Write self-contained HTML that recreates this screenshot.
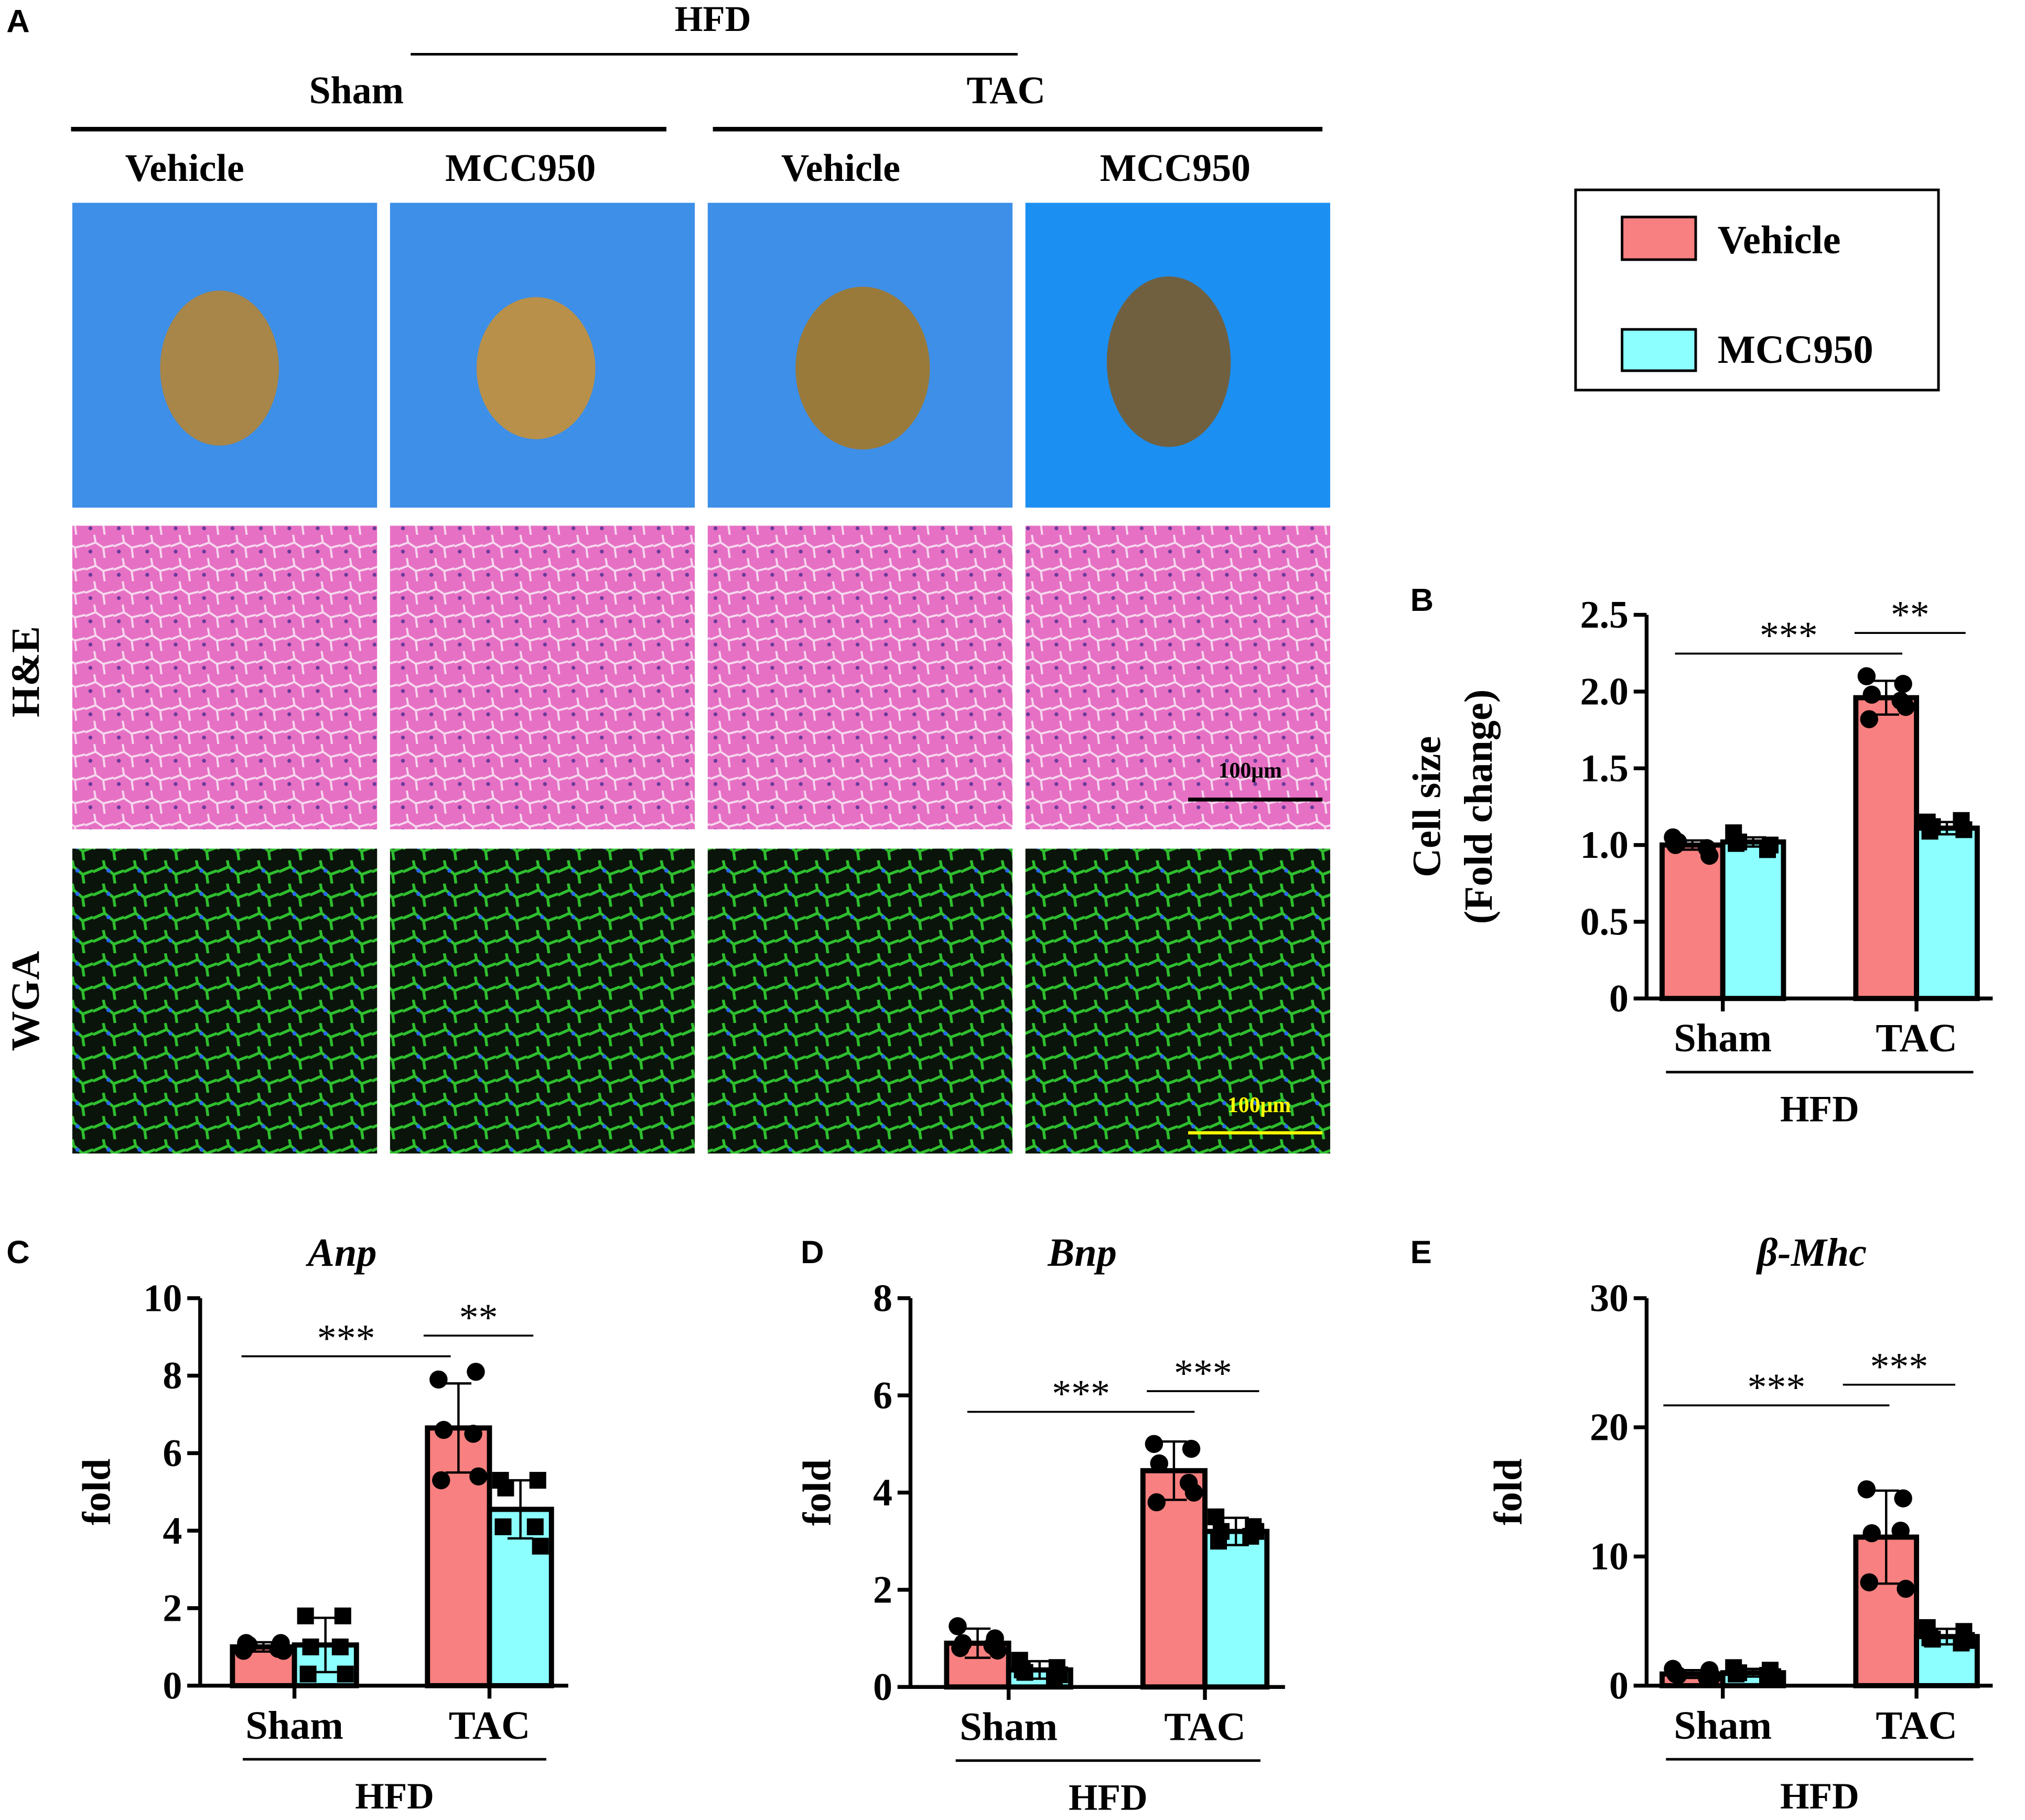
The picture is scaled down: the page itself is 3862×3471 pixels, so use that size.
<!DOCTYPE html>
<html><head><meta charset="utf-8"><style>
html,body{margin:0;padding:0;background:#fff;}
svg{display:block;}
.t{font-family:"Liberation Serif",serif;font-weight:bold;fill:#000;}
.L{font-family:"Liberation Sans",sans-serif;font-weight:bold;font-size:25px;fill:#000;}
</style></head><body>
<svg id="fig" width="3862" height="3471" viewBox="0 0 1568 1409" preserveAspectRatio="none" xmlns="http://www.w3.org/2000/svg">
<defs>
<pattern id="he" width="22" height="18" patternUnits="userSpaceOnUse">
<rect width="22" height="18" fill="#e670c4"/>
<path d="M0 9 L8 6 L14 10 L22 8 M8 6 L7 0 M14 10 L15 18" stroke="#f6d8ee" stroke-width="1.6" fill="none"/>
<circle cx="4" cy="13" r="1.5" fill="#6a3a9a"/>
</pattern>
<pattern id="wga" width="24" height="18" patternUnits="userSpaceOnUse">
<rect width="24" height="18" fill="#0a140a"/>
<path d="M0 9 L9 5 L16 11 L24 8 M9 5 L8 0 M16 11 L17 18" stroke="#2fbf2f" stroke-width="2.2" fill="none"/>
<circle cx="12" cy="8" r="1.6" fill="#2a6aff"/>
</pattern>
</defs>
<text class="L" x="5" y="25">A</text>
<text class="L" x="1092" y="473">B</text>
<text class="L" x="5" y="978">C</text>
<text class="L" x="620" y="978">D</text>
<text class="L" x="1092" y="978">E</text>

<g>
<text class="t" x="552" y="24" font-size="28" text-anchor="middle">HFD</text>
<line x1="318" y1="42" x2="788" y2="42" stroke="#000" stroke-width="2"/>
<text class="t" x="276" y="80" font-size="30" text-anchor="middle">Sham</text>
<text class="t" x="779" y="80" font-size="30" text-anchor="middle">TAC</text>
<line x1="55" y1="100" x2="516" y2="100" stroke="#000" stroke-width="3.5"/>
<line x1="552" y1="100" x2="1024" y2="100" stroke="#000" stroke-width="3.5"/>
<text class="t" x="143" y="140" font-size="30" text-anchor="middle">Vehicle</text>
<text class="t" x="403" y="140" font-size="30" text-anchor="middle">MCC950</text>
<text class="t" x="651" y="140" font-size="30" text-anchor="middle">Vehicle</text>
<text class="t" x="910" y="140" font-size="30" text-anchor="middle">MCC950</text>
</g>
<g>
<rect x="56" y="157" width="236" height="236" fill="#3d8fe8"/>
<rect x="302" y="157" width="236" height="236" fill="#3d8fe8"/>
<rect x="548" y="157" width="236" height="236" fill="#3d8fe8"/>
<rect x="794" y="157" width="236" height="236" fill="#1c8ff2"/>
<ellipse cx="170" cy="285" rx="46" ry="60" fill="#a88548"/>
<ellipse cx="415" cy="285" rx="46" ry="55" fill="#b8904a"/>
<ellipse cx="668" cy="285" rx="52" ry="63" fill="#9a7a3a"/>
<ellipse cx="905" cy="280" rx="48" ry="66" fill="#706040"/>
<rect x="56" y="407" width="236" height="235" fill="url(#he)"/>
<rect x="302" y="407" width="236" height="235" fill="url(#he)"/>
<rect x="548" y="407" width="236" height="235" fill="url(#he)"/>
<rect x="794" y="407" width="236" height="235" fill="url(#he)"/>
<rect x="56" y="657" width="236" height="236" fill="url(#wga)"/>
<rect x="302" y="657" width="236" height="236" fill="url(#wga)"/>
<rect x="548" y="657" width="236" height="236" fill="url(#wga)"/>
<rect x="794" y="657" width="236" height="236" fill="url(#wga)"/>
<text class="t" x="968" y="602" font-size="17" text-anchor="middle">100μm</text>
<line x1="920" y1="619" x2="1024" y2="619" stroke="#000" stroke-width="3"/>
<text class="t" x="975" y="861" font-size="17" text-anchor="middle" style="fill:#ffff00">100μm</text>
<line x1="920" y1="877" x2="1024" y2="877" stroke="#ffff00" stroke-width="2.5"/>
<text class="t" font-size="31" text-anchor="middle" transform="translate(30,520) rotate(-90)">H&amp;E</text>
<text class="t" font-size="31" text-anchor="middle" transform="translate(30,775) rotate(-90)">WGA</text>
</g>
<g>
<rect x="1220" y="147" width="281" height="155" fill="#fff" stroke="#000" stroke-width="2"/>
<rect x="1256" y="168" width="57" height="33" fill="#f88080" stroke="#000" stroke-width="2"/>
<text class="t" x="1330" y="196" font-size="31">Vehicle</text>
<rect x="1256" y="255" width="57" height="32" fill="#8cffff" stroke="#000" stroke-width="2"/>
<text class="t" x="1330" y="281" font-size="31">MCC950</text>
</g>
<g id="charts"></g>
</svg>
<script>
// Data
const groups=["Sham","TAC"];
const bMeans=[1.0,1.02,1.96,1.11];
const bErr=[0.03,0.03,0.11,0.04];
const bPts=[[1.05,0.93,1.02,0.98,1.0],[1.08,1.0,1.02,0.97,1.01],[2.1,2.05,1.98,1.94,1.82,1.9],[1.15,1.1,1.12,1.16,1.09]];
const bTicks=["0","0.5","1.0","1.5","2.0","2.5"];
const cMeans=[1.0,1.05,6.65,4.55];
const cErr=[0.12,0.7,1.15,0.75];
const cPts=[[0.9,1.1,1.05,0.95,1.1,0.9],[1.8,1.8,1.0,1.0,0.3,0.3],[7.9,8.1,6.6,6.5,5.3,5.4],[5.3,5.3,5.1,4.1,4.1,3.6]];
const cTicks=["0","2","4","6","8","10"];
const dMeans=[0.9,0.35,4.45,3.2];
const dErr=[0.3,0.18,0.6,0.28];
const dPts=[[1.25,1.0,0.9,0.85,0.8,0.75],[0.55,0.4,0.3,0.2,0.35,0.25],[5.0,4.9,4.6,4.2,3.8,4.0],[3.5,3.3,3.2,3.1,3.0,3.2]];
const dTicks=["0","2","4","6","8"];
const eMeans=[0.9,1.0,11.5,3.8];
const eErr=[0.3,0.3,3.6,0.6];
const ePts=[[1.3,1.2,0.8,0.6,0.9,0.7],[1.4,1.2,1.0,0.8,0.9,0.7],[15.2,14.5,11.8,12.0,8.0,7.5],[4.5,4.2,3.6,3.3,3.7,3.5]];
const eTicks=["0","10","20","30"];

const NS="http://www.w3.org/2000/svg";
const root=document.getElementById('charts');
function mk(tag,attrs,parent,txt){const e=document.createElementNS(NS,tag);for(const k in attrs)e.setAttribute(k,attrs[k]);if(txt!==undefined)e.textContent=txt;parent.appendChild(e);return e;}

function chart(c){
  const g=mk('g',{},root);
  
  
  const max=parseFloat(c.ticks[c.ticks.length-1]);
  const y=v=>c.y0-(v/max)*(c.y0-c.yTop);
  const ya=mk('line',{x1:c.ax,y1:c.yTop,x2:c.ax,y2:c.y0,stroke:'#000','stroke-width':3},g);
  
  
  const xa=mk('line',{x1:c.ax-10,y1:c.y0,x2:c.axEnd,y2:c.y0,stroke:'#000','stroke-width':3},g);
  
  
  c.ticks.forEach(t=>{
    const v=parseFloat(t),yy=y(v);
    mk('line',{x1:c.ax-10,y1:yy,x2:c.ax,y2:yy,stroke:'#000','stroke-width':3},g);
    const tl=mk('text',{class:'t',x:c.ax-14,y:yy+10,'font-size':30,'text-anchor':'end'},g,t);
    
    
  });
  for(let i=0;i<4;i++){
    const gi=Math.floor(i/2),si=i%2;
    const x=c.gx[gi]+si*c.bw;
    const r=mk('rect',{x:x,y:y(c.means[i]),width:c.bw,height:c.y0-y(c.means[i]),fill:si?'#8cffff':'#f88080',stroke:'#000','stroke-width':4},g);
    
    
    const cx=x+c.bw/2;
    const eb=mk('path',{d:`M${cx} ${y(c.means[i]-c.err[i])}V${y(c.means[i]+c.err[i])}M${cx-10} ${y(c.means[i]+c.err[i])}h20M${cx-10} ${y(c.means[i]-c.err[i])}h20`,stroke:'#000','stroke-width':1.8,fill:'none'},g);
    
    
    const pts=c.pts[i],n=pts.length;
    pts.forEach((v,k)=>{
      const px=x+c.bw*(k%2?0.78:0.22)+(k%3-1)*2,py=y(v);
      let p;
      if(si) p=mk('rect',{x:px-6.5,y:py-6.5,width:13,height:13,fill:'#000'},g);
      else p=mk('circle',{cx:px,cy:py,r:7,fill:'#000'},g);
      
      
    });
  }
  groups.forEach((gn,gi)=>{
    const cx=c.gx[gi]+c.bw;
    mk('line',{x1:cx,y1:c.y0,x2:cx,y2:c.y0+10,stroke:'#000','stroke-width':3},g);
    const tl=mk('text',{class:'t',x:cx,y:c.y0+41,'font-size':31,'text-anchor':'middle'},g,gn);
    
    
  });
  mk('line',{x1:c.hfd[0],y1:c.y0+57,x2:c.hfd[1],y2:c.y0+57,stroke:'#000','stroke-width':2},g);
  const h=mk('text',{class:'t',x:(c.hfd[0]+c.hfd[1])/2,y:c.y0+95,'font-size':29,'text-anchor':'middle'},g,'HFD');
  
  
  c.ytitle.forEach((tt,k)=>{
    const yt=mk('text',{class:'t','font-size':31,'text-anchor':'middle',transform:`translate(${c.ytx[k]},${(c.y0+c.yTop)/2}) rotate(-90)`},g,tt);
    
    
  });
  if(c.title){
    const ti=mk('text',{class:'t',x:c.title[1],y:980,'font-size':31,'font-style':'italic','text-anchor':'middle'},g,c.title[0]);
    
    
  }
  c.sig.forEach(s=>{
    mk('line',{x1:s[0],y1:s[2],x2:s[1],y2:s[2],stroke:'#000','stroke-width':1.5},g);
    const st=mk('text',{x:(s[0]+s[1])/2,y:s[2]-4,'font-size':30,'text-anchor':'middle','font-family':'Liberation Serif, serif'},g,s[3]);
    
    
  });
}
chart({name:'chart-b-cell-size',ax:1275,axEnd:1543,y0:773,yTop:476,ticks:bTicks,means:bMeans,err:bErr,pts:bPts,gx:[1287,1437],bw:47,hfd:[1290,1528],ytitle:['Cell size','(Fold change)'],ytx:[1115,1155],sig:[[1297,1473,506,'***'],[1436,1522,490,'**']]});
chart({name:'chart-c-anp',ax:155,axEnd:440,y0:1305,yTop:1005,ticks:cTicks,means:cMeans,err:cErr,pts:cPts,gx:[180,331],bw:48,hfd:[188,423],ytitle:['fold'],ytx:[85],title:['Anp',265],sig:[[187,349,1050,'***'],[328,413,1034,'**']]});
chart({name:'chart-d-bnp',ax:705,axEnd:995,y0:1306,yTop:1005,ticks:dTicks,means:dMeans,err:dErr,pts:dPts,gx:[733,885],bw:48,hfd:[740,976],ytitle:['fold'],ytx:[643],title:['Bnp',838],sig:[[749,925,1093,'***'],[888,975,1077,'***']]});
chart({name:'chart-e-beta-mhc',ax:1275,axEnd:1543,y0:1305,yTop:1005,ticks:eTicks,means:eMeans,err:eErr,pts:ePts,gx:[1287,1437],bw:47,hfd:[1290,1528],ytitle:['fold'],ytx:[1178],title:['β-Mhc',1403],sig:[[1288,1463,1088,'***'],[1427,1514,1072,'***']]});
</script>
</body></html>
